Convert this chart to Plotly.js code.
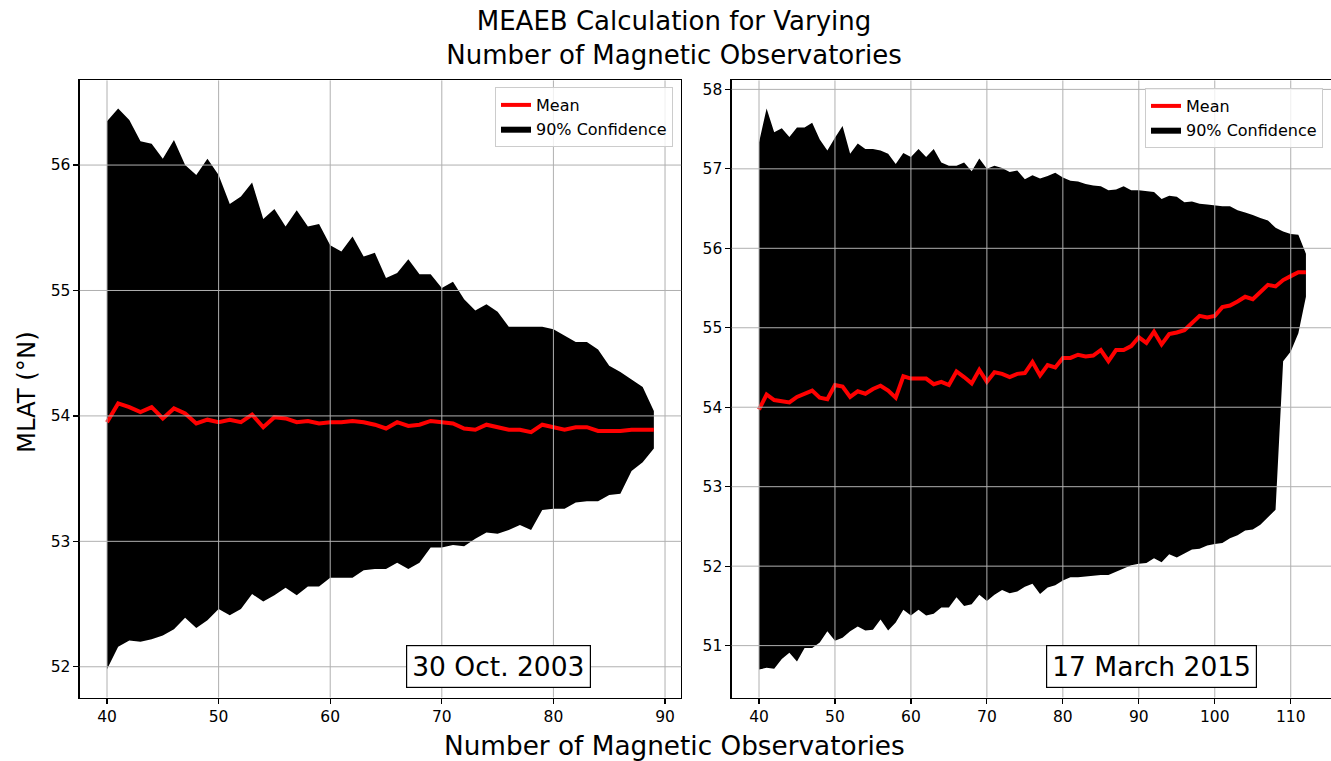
<!DOCTYPE html>
<html>
<head>
<meta charset="utf-8">
<script src="https://cdn.plot.ly/plotly-3.0.1.min.js"></script>
<style>
  html, body { margin: 0; padding: 0; background: #fff; }
  #chart { width: 1331px; height: 761px; }
</style>
</head>
<body>
<div id="chart"></div>
<script>
// Number of magnetic observatories used in each run
const obsOct2003 = [40,41,42,43,44,45,46,47,48,49,50,51,52,53,54,55,56,57,58,59,
  60,61,62,63,64,65,66,67,68,69,70,71,72,73,74,75,76,77,78,79,
  80,81,82,83,84,85,86,87,88,89];
const obsMar2015 = [40,41,42,43,44,45,46,47,48,49,50,51,52,53,54,55,56,57,58,59,
  60,61,62,63,64,65,66,67,68,69,70,71,72,73,74,75,76,77,78,79,
  80,81,82,83,84,85,86,87,88,89,90,91,92,93,94,95,96,97,98,99,
  100,101,102,103,104,105,106,107,108,109,110,111,112];

// 30 Oct. 2003 — MLAT (°N)
const meanOct2003 = [53.95,54.10,54.07,54.03,54.07,53.98,54.06,54.02,53.94,53.97,
  53.95,53.97,53.95,54.01,53.91,53.99,53.98,53.95,53.96,53.94,
  53.95,53.95,53.96,53.95,53.93,53.90,53.95,53.92,53.93,53.96,
  53.95,53.94,53.90,53.89,53.93,53.91,53.89,53.89,53.87,53.93,
  53.91,53.89,53.91,53.91,53.88,53.88,53.88,53.89,53.89,53.89];
const upperOct2003 = [56.35,56.45,56.36,56.19,56.17,56.05,56.20,56.00,55.92,56.05,
  55.92,55.69,55.75,55.86,55.57,55.65,55.51,55.64,55.51,55.53,
  55.36,55.31,55.43,55.27,55.30,55.10,55.14,55.25,55.13,55.13,
  55.02,55.07,54.93,54.84,54.89,54.83,54.71,54.71,54.71,54.71,
  54.69,54.64,54.59,54.59,54.53,54.40,54.35,54.29,54.23,54.04];
const lowerOct2003 = [51.98,52.16,52.21,52.20,52.22,52.25,52.30,52.39,52.31,52.37,
  52.46,52.41,52.46,52.58,52.52,52.57,52.63,52.57,52.64,52.64,
  52.71,52.71,52.71,52.77,52.78,52.78,52.83,52.78,52.83,52.95,
  52.95,52.97,52.96,53.02,53.07,53.06,53.09,53.13,53.09,53.25,
  53.26,53.26,53.31,53.32,53.32,53.37,53.38,53.56,53.63,53.74];

// 17 March 2015 — MLAT (°N)
const meanMar2015 = [53.97,54.16,54.09,54.08,54.06,54.13,54.17,54.21,54.12,54.10,
  54.28,54.26,54.13,54.20,54.17,54.23,54.27,54.21,54.12,54.39,
  54.36,54.36,54.36,54.29,54.32,54.28,54.45,54.38,54.30,54.47,
  54.32,54.44,54.42,54.38,54.42,54.43,54.57,54.40,54.53,54.50,
  54.62,54.62,54.66,54.64,54.65,54.72,54.58,54.72,54.72,54.77,
  54.88,54.81,54.95,54.79,54.92,54.94,54.97,55.06,55.15,55.13,
  55.15,55.26,55.28,55.33,55.39,55.36,55.45,55.54,55.52,55.60,
  55.65,55.70,55.70];
const upperMar2015 = [57.33,57.76,57.46,57.51,57.40,57.52,57.52,57.58,57.37,57.23,
  57.39,57.54,57.19,57.32,57.25,57.25,57.23,57.19,57.06,57.20,
  57.15,57.25,57.15,57.25,57.08,57.04,57.04,57.08,56.97,57.13,
  57.00,57.04,57.01,56.96,56.98,56.87,56.92,56.88,56.91,56.95,
  56.89,56.85,56.84,56.81,56.79,56.78,56.73,56.74,56.78,56.73,
  56.73,56.72,56.71,56.62,56.66,56.65,56.58,56.59,56.56,56.55,
  56.54,56.53,56.53,56.48,56.45,56.42,56.38,56.35,56.26,56.21,
  56.18,56.17,55.93];
const lowerMar2015 = [50.70,50.72,50.71,50.83,50.91,50.80,50.97,50.97,51.04,51.18,
  51.06,51.10,51.18,51.24,51.19,51.20,51.33,51.19,51.29,51.45,
  51.38,51.45,51.38,51.40,51.48,51.48,51.61,51.50,51.52,51.64,
  51.56,51.64,51.70,51.66,51.68,51.74,51.78,51.65,51.73,51.76,
  51.82,51.86,51.86,51.87,51.88,51.89,51.89,51.93,51.98,52.01,
  52.03,52.04,52.10,52.05,52.15,52.11,52.16,52.21,52.22,52.26,
  52.28,52.29,52.35,52.39,52.45,52.46,52.52,52.62,52.71,54.58,
  54.70,54.93,55.39];

// Tick positions
const xTicksLeft = [40, 50, 60, 70, 80, 90];
const yTicksLeft = [52, 53, 54, 55, 56];
const xTicksRight = [40, 50, 60, 70, 80, 90, 100, 110];
const yTicksRight = [51, 52, 53, 54, 55, 56, 57, 58];

const FONT = 'DejaVu Sans, Liberation Sans, sans-serif';
const W = 1331, H = 761;

function bandTraces(x, lower, upper, mean, xa, ya, legendId) {
  return [
    { x: x, y: lower, xaxis: xa, yaxis: ya, type: 'scatter', mode: 'lines',
      line: { width: 0, color: 'black' }, showlegend: false, hoverinfo: 'skip',
      legend: legendId },
    { x: x, y: upper, xaxis: xa, yaxis: ya, type: 'scatter', mode: 'lines',
      fill: 'tonexty', fillcolor: 'black', line: { width: 0, color: 'black' },
      name: '90% Confidence', legend: legendId, legendrank: 2 },
    { x: x, y: mean, xaxis: xa, yaxis: ya, type: 'scatter', mode: 'lines',
      line: { width: 4, color: '#ff0000' }, name: 'Mean', legend: legendId,
      legendrank: 1 }
  ];
}

const data = [
  ...bandTraces(obsOct2003, lowerOct2003, upperOct2003, meanOct2003, 'x', 'y', 'legend'),
  ...bandTraces(obsMar2015, lowerMar2015, upperMar2015, meanMar2015, 'x2', 'y2', 'legend2')
];

// Grid lines drawn over the confidence band
const gridStyle = { color: '#b0b0b0', width: 1 };
const shapes = [];
function addGrid(xt, yt, xa, ya) {
  xt.forEach(v => shapes.push({ type: 'line', layer: 'above', xref: xa, yref: ya + ' domain',
    x0: v, x1: v, y0: 0, y1: 1, line: gridStyle }));
  yt.forEach(v => shapes.push({ type: 'line', layer: 'above', xref: xa + ' domain', yref: ya,
    x0: 0, x1: 1, y0: v, y1: v, line: gridStyle }));
}
addGrid(xTicksLeft, yTicksLeft, 'x', 'y');
addGrid(xTicksRight, yTicksRight, 'x2', 'y2');

const yDomain = [63.5 / H, 680.6 / H];

function axisBase(extra) {
  return Object.assign({
    showgrid: false, zeroline: false,
    showline: true, linecolor: 'black', linewidth: 1.2, mirror: true,
    ticks: 'outside', ticklen: 5, tickwidth: 1.2, tickcolor: 'black',
    tickfont: { family: FONT, size: 15.5, color: 'black' },
    tickmode: 'array', layer: 'above traces'
  }, extra);
}

const legendBase = {
  bgcolor: 'rgba(255,255,255,0.8)', bordercolor: '#cccccc', borderwidth: 1,
  font: { family: FONT, size: 16, color: 'black' },
  xanchor: 'right', yanchor: 'top', traceorder: 'normal', tracegroupgap: 0
};

const layout = {
  width: W, height: H,
  margin: { l: 0, r: 0, t: 0, b: 0 },
  paper_bgcolor: 'white', plot_bgcolor: 'white',
  showlegend: true,
  title: {
    text: 'MEAEB Calculation for Varying<br>Number of Magnetic Observatories',
    font: { family: FONT, size: 26, color: 'black' },
    x: 674 / W, xanchor: 'center', xref: 'container',
    y: 1 - 30 / H, yanchor: 'top', yref: 'container'
  },
  xaxis: axisBase({ domain: [79.66 / W, 681.2 / W], range: [37.55, 91.45],
    tickvals: xTicksLeft, anchor: 'y' }),
  yaxis: axisBase({ domain: yDomain, range: [51.755, 56.675],
    tickvals: yTicksLeft, anchor: 'x' }),
  xaxis2: axisBase({ domain: [731.65 / W, 1], range: [36.4, 115.3],
    tickvals: xTicksRight, anchor: 'y2' }),
  yaxis2: axisBase({ domain: yDomain, range: [50.347, 58.113],
    tickvals: yTicksRight, anchor: 'x2' }),
  legend: Object.assign({}, legendBase, { x: 673 / W, y: 1 - 87 / H }),
  legend2: Object.assign({}, legendBase, { x: 1323 / W, y: 1 - 88 / H }),
  shapes: shapes,
  annotations: [
    { text: '30 Oct. 2003', xref: 'x domain', yref: 'y domain', x: 0.697, y: 0.05,
      xanchor: 'center', yanchor: 'middle', showarrow: false,
      font: { family: FONT, size: 26.5, color: 'black' },
      bgcolor: 'white', bordercolor: 'black', borderwidth: 1.2, borderpad: 5 },
    { text: '17 March 2015', xref: 'x2 domain', yref: 'y2 domain', x: 0.7005, y: 0.05,
      xanchor: 'center', yanchor: 'middle', showarrow: false,
      font: { family: FONT, size: 26.5, color: 'black' },
      bgcolor: 'white', bordercolor: 'black', borderwidth: 1.2, borderpad: 5 },
    { text: 'Number of Magnetic Observatories', xref: 'paper', yref: 'paper',
      x: 674.5 / W, y: 1 - 746 / H, xanchor: 'center', yanchor: 'middle',
      showarrow: false, font: { family: FONT, size: 26.3, color: 'black' } },
    { text: 'MLAT (°N)', xref: 'paper', yref: 'paper', textangle: -90,
      x: 26 / W, y: 1 - 392 / H, xanchor: 'center', yanchor: 'middle',
      showarrow: false, font: { family: FONT, size: 24.3, color: 'black' } }
  ]
};

Plotly.newPlot('chart', data, layout, { staticPlot: true, displayModeBar: false });
</script>
</body>
</html>
